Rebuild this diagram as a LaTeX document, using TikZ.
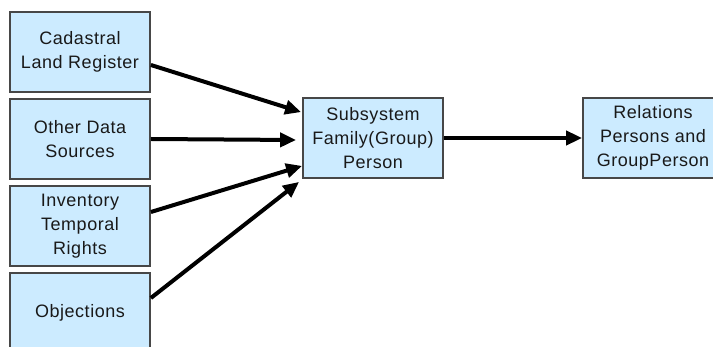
\documentclass[tikz,border=0pt]{standalone}
\usepackage{fontspec}
\setmainfont{Liberation Sans}[LetterSpace=3]
\usetikzlibrary{arrows.meta}
\definecolor{boxfill}{HTML}{CCEBFF}
\tikzset{
  box/.style={draw=black!72, line width=1.8pt, fill=boxfill, minimum width=140pt, minimum height=80pt,
    inner sep=0pt, align=center, font=\fontsize{18}{24}\selectfont, text=black!90},
  arr/.style={line width=4pt, -{Triangle[length=16pt,width=14pt]}, black}
}
\begin{document}
\begin{tikzpicture}[x=1pt,y=-1pt]
\useasboundingbox (0,0) rectangle (713,347);
\clip (0,0) rectangle (713,347);
\node[box] (c1) at (80,52) {Cadastral\\Land Register};
\node[box] (c2) at (80,139) {Other Data\\Sources};
\node[box] (c3) at (80,226) {Inventory\\Temporal\\Rights};
\node[box] (c4) at (80,313) {Objections};
\node[box] (sub) at (373,138) {Subsystem\\Family(Group)\\Person};
\node[box] (rel) at (653,138) {Relations\\Persons and\\GroupPerson};
\draw[arr] (c1.east) ++(0,13) -- ([shift={(-1,15)}]sub.north west);
\draw[arr] (c2.east) -- ([shift={(-6,2)}]sub.west);
\draw[arr] (c3.east) ++(0,-14) -- ([shift={(0,-13)}]sub.south west);
\draw[arr] (c4.east) ++(0,-15) -- ([shift={(-3,3)}]sub.south west);
\draw[arr] (sub.east) -- (rel.west);
\end{tikzpicture}
\end{document}
